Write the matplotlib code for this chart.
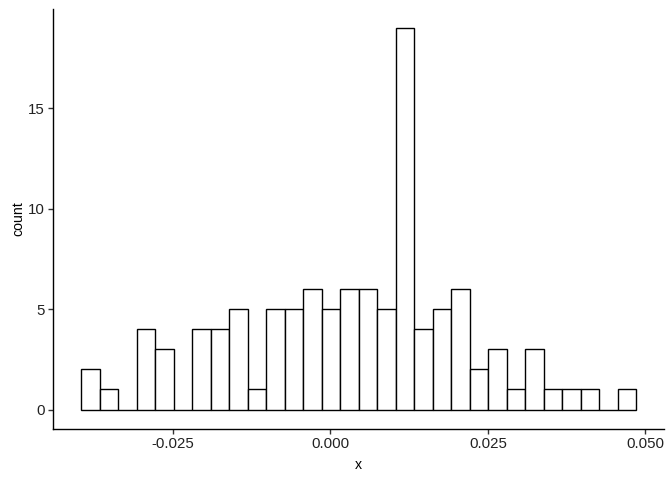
import numpy as np
import matplotlib.pyplot as plt

plt.rcParams['font.family'] = ['Liberation Sans', 'DejaVu Sans']

# histogram (30 bins)
bin_start = -0.03963
bin_width = 0.00294
counts = [2, 1, 0, 4, 3, 0, 4, 4, 5, 1, 5, 5, 6, 5, 6, 6, 5, 19,
          4, 5, 6, 2, 3, 1, 3, 1, 1, 1, 0, 1]
x_ticks = [-0.025, 0.000, 0.025, 0.050]
x_labels = ['-0.025', '0.000', '0.025', '0.050']
y_ticks = [0, 5, 10, 15]

edges = bin_start + bin_width * np.arange(len(counts) + 1)

fig = plt.figure(figsize=(6.72, 4.8), dpi=100)
ax = fig.add_axes([0.0793, 0.107, 0.9087, 0.875])

ax.bar(edges[:-1], counts, width=bin_width, align='edge',
       facecolor='white', edgecolor='black', linewidth=1.0)

# ggplot style 5% expansion
lo, hi = edges[0], edges[-1]
pad = 0.05 * (hi - lo)
ax.set_xlim(lo - pad, hi + pad)
ymax = max(counts)
ax.set_ylim(-0.05 * ymax, ymax * 1.05)

ax.set_xticks(x_ticks)
ax.set_xticklabels(x_labels)
ax.set_yticks(y_ticks)

for s in ['top', 'right']:
    ax.spines[s].set_visible(False)
for s in ['left', 'bottom']:
    ax.spines[s].set_linewidth(1.0)

ax.tick_params(axis='both', length=3.7, width=1.0, color='#333333',
               labelsize=10.8, labelcolor='#222222', pad=2.5)
ax.set_xlabel('x', fontsize=10.2, labelpad=5)
ax.set_ylabel('count', fontsize=10.2, labelpad=2)

fig.savefig('out.png', dpi=100)
